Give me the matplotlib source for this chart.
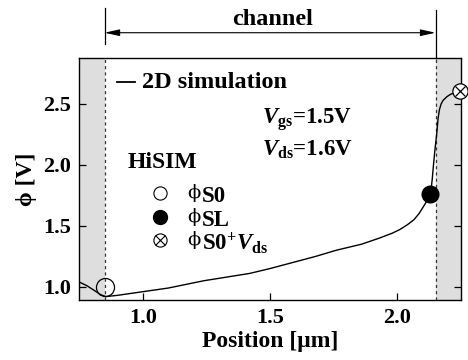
import matplotlib
matplotlib.use('Agg')
import matplotlib.pyplot as plt

plt.rcParams['font.family'] = ['Liberation Serif', 'DejaVu Serif']
plt.rcParams['font.weight'] = 'bold'
plt.rcParams['axes.labelweight'] = 'bold'
plt.rcParams['mathtext.fontset'] = 'custom'
plt.rcParams['mathtext.rm'] = 'Liberation Serif:bold'
plt.rcParams['mathtext.bf'] = 'Liberation Serif:bold'
plt.rcParams['mathtext.it'] = 'Liberation Serif:italic:bold'

# 2D simulation potential along the channel
pos = [0.75, 0.78, 0.81, 0.835, 0.855, 0.90, 1.00, 1.10, 1.24, 1.30, 1.42, 1.50,
       1.59, 1.68, 1.76, 1.86, 1.93, 1.98, 2.01, 2.04, 2.065, 2.085, 2.10, 2.115,
       2.125, 2.132, 2.137, 2.142, 2.148, 2.155, 2.16, 2.165, 2.172, 2.18, 2.195,
       2.21, 2.24]
phi = [1.04, 1.01, 0.97, 0.935, 0.92, 0.93, 0.96, 0.99, 1.05, 1.07, 1.11, 1.15,
       1.20, 1.25, 1.30, 1.35, 1.40, 1.44, 1.47, 1.51, 1.55, 1.60, 1.65, 1.70,
       1.74, 1.79, 1.88, 2.00, 2.13, 2.26, 2.38, 2.45, 2.50, 2.53, 2.56,
       2.58, 2.60]

# HiSIM points
phi_s0 = (0.85, 1.00)
phi_sl = (2.13, 1.76)
phi_s0_vds = (2.245, 2.61)

src_end = 0.85
drn_start = 2.15
xticks = [1.0, 1.5, 2.0]
yticks = [1.0, 1.5, 2.0, 2.5]

fig = plt.figure(figsize=(4.68, 3.6), dpi=100)
ax = fig.add_axes([0.169, 0.167, 0.816, 0.672])
ax.set_xlim(0.75, 2.25)
ax.set_ylim(0.893, 2.877)

ax.axvspan(0.75, src_end, color='#dedede', lw=0, zorder=0)
ax.axvspan(drn_start, 2.25, color='#dedede', lw=0, zorder=0)
ax.axvline(src_end, color='#333333', lw=0.9, ls=(0, (2.5, 2.5)), zorder=1)
ax.axvline(drn_start, color='#333333', lw=0.9, ls=(0, (2.5, 2.5)), zorder=1)

ax.plot(pos, phi, color='black', lw=1.0, zorder=2)

ax.plot(*phi_s0, 'o', ms=13, mfc='none', mec='black', mew=0.9, zorder=3)
ax.plot(*phi_sl, 'o', ms=12, mfc='black', mec='black', zorder=3)
ax.plot(*phi_s0_vds, 'o', ms=11, mfc='white', mec='black', mew=0.9, zorder=3, clip_on=False)
ax.plot(*phi_s0_vds, 'x', ms=7.5, mec='black', mew=0.9, zorder=4, clip_on=False)

ax.set_xticks(xticks)
ax.set_yticks(yticks)
ax.set_xticklabels(['%.1f' % v for v in xticks])
ax.set_yticklabels(['%.1f' % v for v in yticks])
ax.tick_params(direction='in', length=5, width=0.9, labelsize=16, pad=6,
               right=True, top=False)
for s in ax.spines.values():
    s.set_linewidth(1.0)

ax.set_xlabel('Position [μm]', fontsize=17, fontweight='bold', labelpad=2)
ax.set_ylabel('ϕ [V]', fontsize=17, fontweight='bold', labelpad=4)

# channel annotation above the axes
tr = ax.transAxes
ax.annotate('', xy=(src_end, 3.084), xytext=(drn_start, 3.084), xycoords='data',
            arrowprops=dict(arrowstyle='<|-|>,head_length=0.9,head_width=0.2',
                            lw=0.8, color='black', shrinkA=0, shrinkB=0),
            annotation_clip=False)
ax.plot([src_end, src_end], [2.99, 3.29], color='black', lw=0.9, clip_on=False)
ax.plot([drn_start, drn_start], [2.877, 3.27], color='black', lw=0.9, clip_on=False)
ax.text(1.51, 3.19, 'channel', ha='center', va='center', fontsize=17.5, clip_on=False)

# legend for simulation line
ax.plot([0.099, 0.147], [0.901, 0.901], color='black', lw=1.3, transform=tr)
ax.text(0.165, 0.897, '2D simulation', transform=tr, ha='left', va='center', fontsize=17.5)

ax.text(0.479, 0.744, r'$V_{\rm gs}$=1.5V', transform=tr, ha='left', va='center', fontsize=16.5)
ax.text(0.479, 0.622, r'$V_{\rm ds}$=1.6V', transform=tr, ha='left', va='center', fontsize=16.5)

ax.text(0.128, 0.566, 'HiSIM', transform=tr, ha='left', va='center', fontsize=17)

key_x = 0.212
ax.plot(key_x, 0.442, 'o', ms=9.5, mfc='white', mec='black', mew=0.8, transform=tr)
ax.plot(key_x, 0.343, 'o', ms=10, mfc='black', mec='black', transform=tr)
ax.plot(key_x, 0.248, 'o', ms=9.5, mfc='white', mec='black', mew=0.8, transform=tr)
ax.plot(key_x, 0.248, 'x', ms=6.5, mec='black', mew=0.8, transform=tr)

labels = ['S0', 'SL', r'S0$^{+}V_{\rm ds}$']
bases = [0.403, 0.305, 0.208]
for lab, b in zip(labels, bases):
    ax.text(0.284, b + 0.018, 'ϕ', transform=tr, ha='left', va='baseline', fontsize=14,
            family=['DejaVu Serif'], fontweight='normal')
    ax.text(0.322, b, lab, transform=tr, ha='left', va='baseline', fontsize=16.5)

fig.savefig('out.png', dpi=100)
